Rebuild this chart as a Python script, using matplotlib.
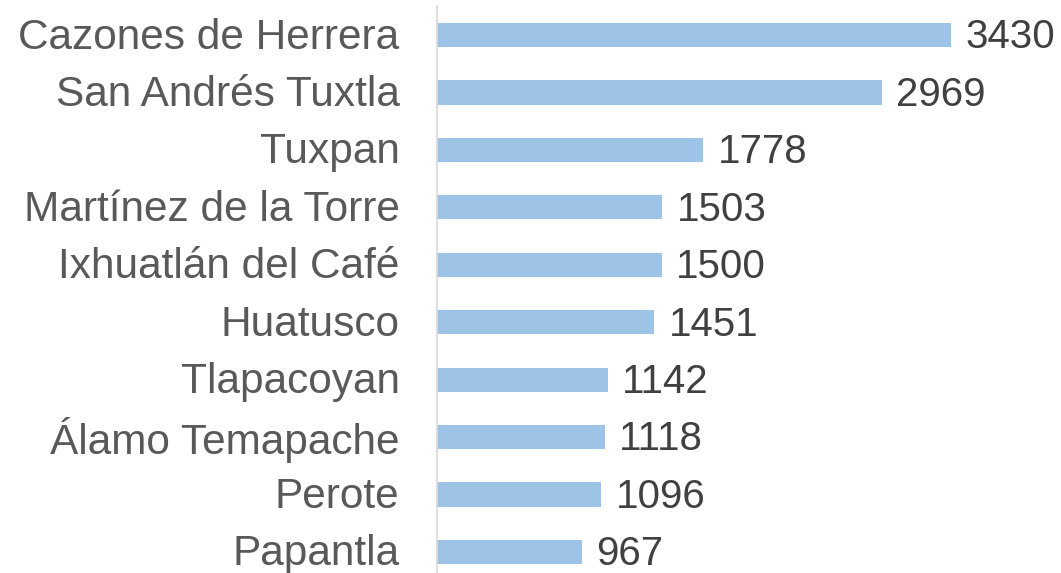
import matplotlib
matplotlib.use("Agg")
import matplotlib.pyplot as plt
import matplotlib.transforms as mtransforms

categories = ["Cazones de Herrera", "San Andrés Tuxtla", "Tuxpan", "Martínez de la Torre",
              "Ixhuatlán del Café", "Huatusco", "Tlapacoyan", "Álamo Temapache", "Perote", "Papantla"]
values = [3430, 2969, 1778, 1503, 1500, 1451, 1142, 1118, 1096, 967]

plt.rcParams['font.family'] = ['Liberation Sans', 'DejaVu Sans']

W, H = 1061, 573
fig = plt.figure(figsize=(W / 100, H / 100), dpi=100)
left = 437 / W
top_px, bot_px = 6.3, 580.7
ax = fig.add_axes([left, 1 - bot_px / H, 1 - left, (bot_px - top_px) / H])

pos = list(range(len(categories)))
ax.barh(pos, values, height=0.42, color="#9DC3E6", zorder=2)
ax.set_ylim(len(categories) - 0.5, -0.5)
ax.set_xlim(0, 4164)

for p, v in zip(pos, values):
    ax.text(v + 95, p + 0.04, f"{v}", va="center", ha="left", fontsize=29, color="#404040")

ax.set_yticks(pos)
ax.set_yticklabels(categories, fontsize=30.5, color="#595959")
ax.tick_params(axis="y", length=0, pad=27)
offset = mtransforms.ScaledTranslation(0, 2 / 100, fig.dpi_scale_trans)
for lbl in ax.get_yticklabels():
    lbl.set_transform(lbl.get_transform() + offset)
ax.set_xticks([])
for s in ["top", "right", "bottom"]:
    ax.spines[s].set_visible(False)
ax.spines["left"].set_color("#D9D9D9")
ax.spines["left"].set_linewidth(1.2)

fig.savefig("out.png", dpi=100)
